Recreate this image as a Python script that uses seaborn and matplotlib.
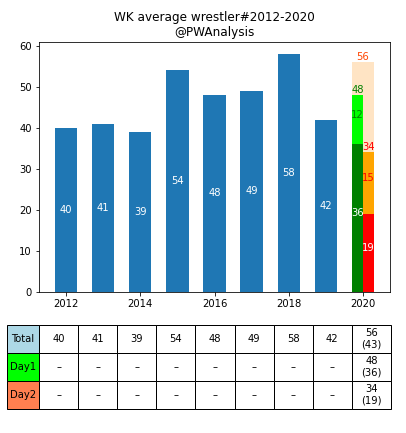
import matplotlib
matplotlib.use("Agg")
import matplotlib.pyplot as plt
import seaborn as sns
import pandas as pd

years = [2012, 2013, 2014, 2015, 2016, 2017, 2018, 2019]
totals = [40, 41, 39, 54, 48, 49, 58, 42]
year_2020 = 2020
total_2020 = 56
day1_total = 48
day1_base = 36
day2_total = 34
day2_base = 19
row_labels = ["Total", "Day1", "Day2"]
table_rows = [
    ["40", "41", "39", "54", "48", "49", "58", "42", "56\n(43)"],
    ["–"] * 8 + ["48\n(36)"],
    ["–"] * 8 + ["34\n(19)"],
]
row_colors = ["lightblue", "lime", "coral"]

sns.set_style("ticks")
plt.rcParams['font.family'] = ['DejaVu Sans']
plt.rcParams['text.color'] = 'black'
plt.rcParams['axes.labelcolor'] = 'black'
plt.rcParams['xtick.color'] = 'black'
plt.rcParams['ytick.color'] = 'black'
fig = plt.figure(figsize=(406 / 72, 433 / 72), dpi=72)
ax = fig.add_axes([39 / 406, 1 - 292 / 433, 351 / 406, 250 / 433])

bar_kw = dict(native_scale=True, saturation=1, ax=ax, linewidth=0, edgecolor="none")

df = pd.DataFrame({"year": years, "total": totals})
sns.barplot(data=df, x="year", y="total", width=0.6, color="#1f77b4", **bar_kw)

sns.barplot(x=[year_2020], y=[total_2020], width=0.6, color="bisque", **bar_kw)
sns.barplot(x=[year_2020 - 0.15], y=[day1_total], width=0.3, color="lime", **bar_kw)
sns.barplot(x=[year_2020 - 0.15], y=[day1_base], width=0.3, color="green", **bar_kw)
sns.barplot(x=[year_2020 + 0.15], y=[day2_total], width=0.3, color="orange", **bar_kw)
sns.barplot(x=[year_2020 + 0.15], y=[day2_base], width=0.3, color="red", **bar_kw)

for y, v in zip(years, totals):
    ax.text(y, v / 2, str(v), color="white", ha="center", va="center", fontsize=10)

tk = dict(ha="center", va="bottom", fontsize=10)
ax.text(year_2020, total_2020, str(total_2020), color="orangered", **tk)
ax.text(year_2020 - 0.15, day1_total, str(day1_total), color="green", **tk)
ax.text(year_2020 - 0.15, (day1_total + day1_base) / 2, str(day1_total - day1_base), color="green", **tk)
ax.text(year_2020 - 0.15, day1_base / 2, str(day1_base), color="white", **tk)
ax.text(year_2020 + 0.15, day2_total, str(day2_total), color="red", **tk)
ax.text(year_2020 + 0.15, (day2_total + day2_base) / 2, str(day2_total - day2_base), color="red", **tk)
ax.text(year_2020 + 0.15, day2_base / 2, str(day2_base), color="white", **tk)

ax.set_xlabel("")
ax.set_ylabel("")
ax.set_xlim(2011.27, 2020.73)
ax.set_ylim(0, 60.9)
ax.set_xticks([2012, 2014, 2016, 2018, 2020])
ax.set_yticks([0, 10, 20, 30, 40, 50, 60])
for s in ax.spines.values():
    s.set_visible(True)
    s.set_color("black")
ax.tick_params(labelsize=10, colors="black")
ax.set_title("WK average wrestler#2012-2020\n@PWAnalysis", fontsize=12, color="black")

cell_text = [[lab] + row for lab, row in zip(row_labels, table_rows)]
cell_colours = [[c] + ["white"] * 9 for c in row_colors]
col_w = [32 / 384] + [39.1 / 384] * 9
tbl = ax.table(cellText=cell_text, cellColours=cell_colours, colWidths=col_w,
               cellLoc="center",
               bbox=[(7 - 39) / 351, -(409 - 292) / 250, 384 / 351, 84 / 250])
tbl.auto_set_font_size(False)
tbl.set_fontsize(10)
for cell in tbl.get_celld().values():
    cell.get_text().set_color("black")
    cell.set_edgecolor("black")

fig.savefig("out.png", dpi=72)
